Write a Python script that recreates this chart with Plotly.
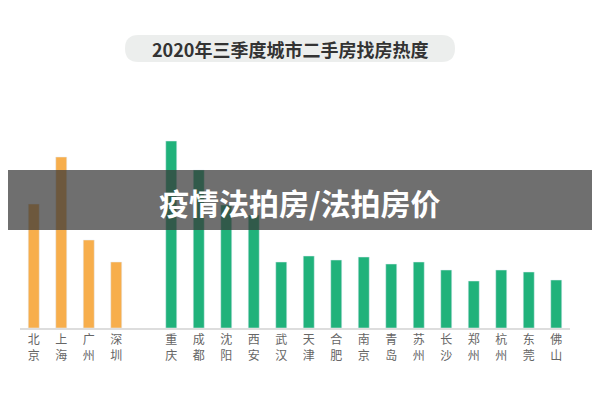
import plotly.graph_objects as go

# 城市与热度
cities_a = ["北京", "上海", "广州", "深圳"]
values_a = [124, 171, 88, 66]
cities_b = ["重庆", "成都", "沈阳", "西安", "武汉", "天津", "合肥", "南京", "青岛",
            "苏州", "长沙", "郑州", "杭州", "东莞", "佛山"]
values_b = [187, 158, 123, 113, 66, 72, 68, 71, 64, 66, 58, 47, 58, 56, 48]

pos_a = list(range(len(cities_a)))
pos_b = [len(cities_a) + 1 + i for i in range(len(cities_b))]

def vlabel(s):
    return "<br>".join(s)

# 页面坐标 -> paper 坐标（页面有 8px 外边距）
def px(x):
    return (x - 8 - 12) / 550

def py(y):
    return (320 - (y - 8)) / 228

fig = go.Figure()
fig.add_bar(x=pos_a, y=values_a, marker_color="#F7AE4C", width=0.4)
fig.add_bar(x=pos_b, y=values_b, marker_color="#20B27B", width=0.4)

fig.update_layout(
    width=600, height=400,
    margin=dict(l=12, r=38, t=92, b=80),
    paper_bgcolor="white", plot_bgcolor="white",
    showlegend=False,
    font=dict(family="Noto Sans CJK SC", color="#555"),
)
fig.update_xaxes(
    range=[-0.5, 19.5], tickvals=pos_a + pos_b,
    ticktext=[vlabel(c) for c in cities_a + cities_b],
    tickfont=dict(size=12, color="#666"), showline=True, linecolor="#ddd",
    linewidth=2, showgrid=False, ticks="",
)
fig.update_yaxes(range=[0, 228], visible=False)

# 标题胶囊（圆角）
x0, x1, y0, y1 = px(125), px(455), py(62), py(35)
r = 13.5 / 550
rh = 13.5 / 228
fig.add_shape(type="path", xref="paper", yref="paper",
              path=(f"M {x0+r},{y0} L {x1-r},{y0} Q {x1},{y0} {x1},{y0+rh} "
                    f"L {x1},{y1-rh} Q {x1},{y1} {x1-r},{y1} L {x0+r},{y1} "
                    f"Q {x0},{y1} {x0},{y1-rh} L {x0},{y0+rh} Q {x0},{y0} {x0+r},{y0} Z"),
              fillcolor="#ECEEED", line=dict(width=0), layer="below")
fig.add_annotation(text="<b>2020年三季度城市二手房找房热度</b>", xref="paper", yref="paper",
                   x=px(290), y=py(48.5), yanchor="middle", showarrow=False,
                   font=dict(size=18, color="#333"))

# 中间遮罩条
fig.add_shape(type="rect", xref="paper", yref="paper", x0=px(-10), x1=px(610),
              y0=py(230), y1=py(170),
              fillcolor="rgba(55,55,55,0.72)", line=dict(width=0), layer="above")
fig.add_annotation(text="<b>疫情法拍房/法拍房价</b>", xref="paper", yref="paper",
                   x=px(300), y=py(202), yanchor="middle", showarrow=False,
                   font=dict(size=30, color="white"))

fig.write_html("out.html")
